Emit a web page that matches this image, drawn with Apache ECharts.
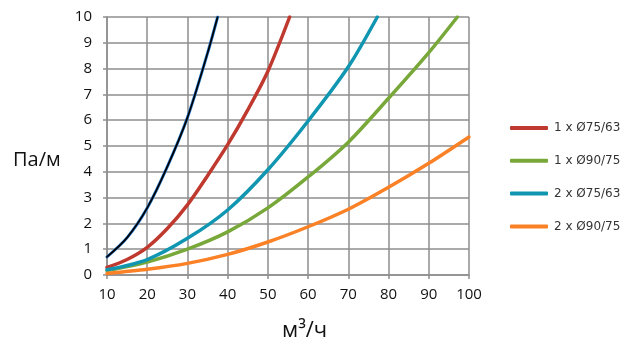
<!DOCTYPE html>
<html><head><meta charset="utf-8">
<script src="https://cdn.jsdelivr.net/npm/echarts@6/dist/echarts.min.js"></script>
<style>html,body{margin:0;padding:0;background:#fff}#c{width:629px;height:357px}</style>
</head><body><div id="c"></div>
<script>
// Data
const xTicks = [10,20,30,40,50,60,70,80,90,100];
const yTicks = [0,1,2,3,4,5,6,7,8,9,10];

const darkX = [10,15,20,25,30,35,37.5];
const darkY = [0.7,1.45,2.6,4.2,6.1,8.6,10];

const red75X = [10,15,20,25,30,35,40,45,50,55.4];
const red75Y = [0.29,0.6,1.07,1.8,2.72,3.85,5.05,6.4,7.9,10];

const green90X = [10,20,30,40,50,60,70,80,90,97.1];
const green90Y = [0.17,0.5,1.0,1.67,2.6,3.8,5.15,6.85,8.62,10];

const cyan75X = [10,20,30,40,50,60,70,77.2];
const cyan75Y = [0.2,0.6,1.42,2.52,4.08,5.97,8.07,10];

const orange90X = [10,20,30,40,50,60,70,80,90,100];
const orange90Y = [0.06,0.22,0.45,0.8,1.28,1.87,2.55,3.4,4.33,5.35];

const names = ['1 x Ø75/63','1 x Ø90/75','2 x Ø75/63','2 x Ø90/75'];

function pairs(xs, ys){ return xs.map((x,i)=>[x, ys[i]]); }

const gridColor = '#8e8e8e';
function line(name, xs, ys, color, width, z){
  return {name, type:'line', data:pairs(xs,ys), smooth:0.3,
    showSymbol:false, symbol:'none', lineStyle:{color, width, cap:'round'}, itemStyle:{color}, z:z||2, silent:true};
}

const chart = echarts.init(document.getElementById('c'), null, {renderer:'canvas'});
chart.setOption({
  animation:false,
  backgroundColor:'#fff',
  grid:{left:107, top:17, right:160, bottom:82, containLabel:false},
  xAxis:{type:'value', min:10, max:100, interval:10,
    axisLine:{show:true, lineStyle:{color:gridColor, width:1.5}},
    axisTick:{show:true, length:4, lineStyle:{color:gridColor, width:1.5}},
    splitLine:{show:true, lineStyle:{color:gridColor, width:1.5}},
    axisLabel:{color:'#111', fontSize:15, fontFamily:'Open Sans', margin:12,
      formatter:v=>String(v)}},
  yAxis:{type:'value', min:0, max:10, interval:1,
    axisLine:{show:true, lineStyle:{color:gridColor, width:1.5}},
    axisTick:{show:true, length:4, lineStyle:{color:gridColor, width:1.5}},
    splitLine:{show:true, lineStyle:{color:gridColor, width:1.5}},
    axisLabel:{color:'#111', fontSize:15, fontFamily:'Open Sans', margin:15}},
  legend:{show:true, orient:'vertical', left:505, top:117, itemWidth:38, itemHeight:4,
    itemGap:20.8, icon:'roundRect', data:names,
    textStyle:{color:'#333', fontSize:12, fontFamily:'DejaVu Sans', padding:[0,0,0,1]}},
  graphic:[
    {type:'text', left:13, top:150, style:{text:'Па/м', fontSize:20, fontFamily:'Open Sans', fill:'#111'}},
    {type:'text', left:282, top:320, style:{text:'м³/ч', fontSize:22, fontFamily:'Open Sans', fill:'#111'}}
  ],
  series:[
    line('dark-blue', darkX, darkY, '#2378cc', 3, 2),
    line('dark', darkX, darkY, '#000', 1.7, 3),
    line(names[0], red75X, red75Y, '#c0392f', 3.5, 2),
    line(names[1], green90X, green90Y, '#78a83a', 3.5, 2),
    line(names[2], cyan75X, cyan75Y, '#1196b2', 3.5, 2),
    line(names[3], orange90X, orange90Y, '#fb8126', 3.5, 2)
  ]
});
</script></body></html>
